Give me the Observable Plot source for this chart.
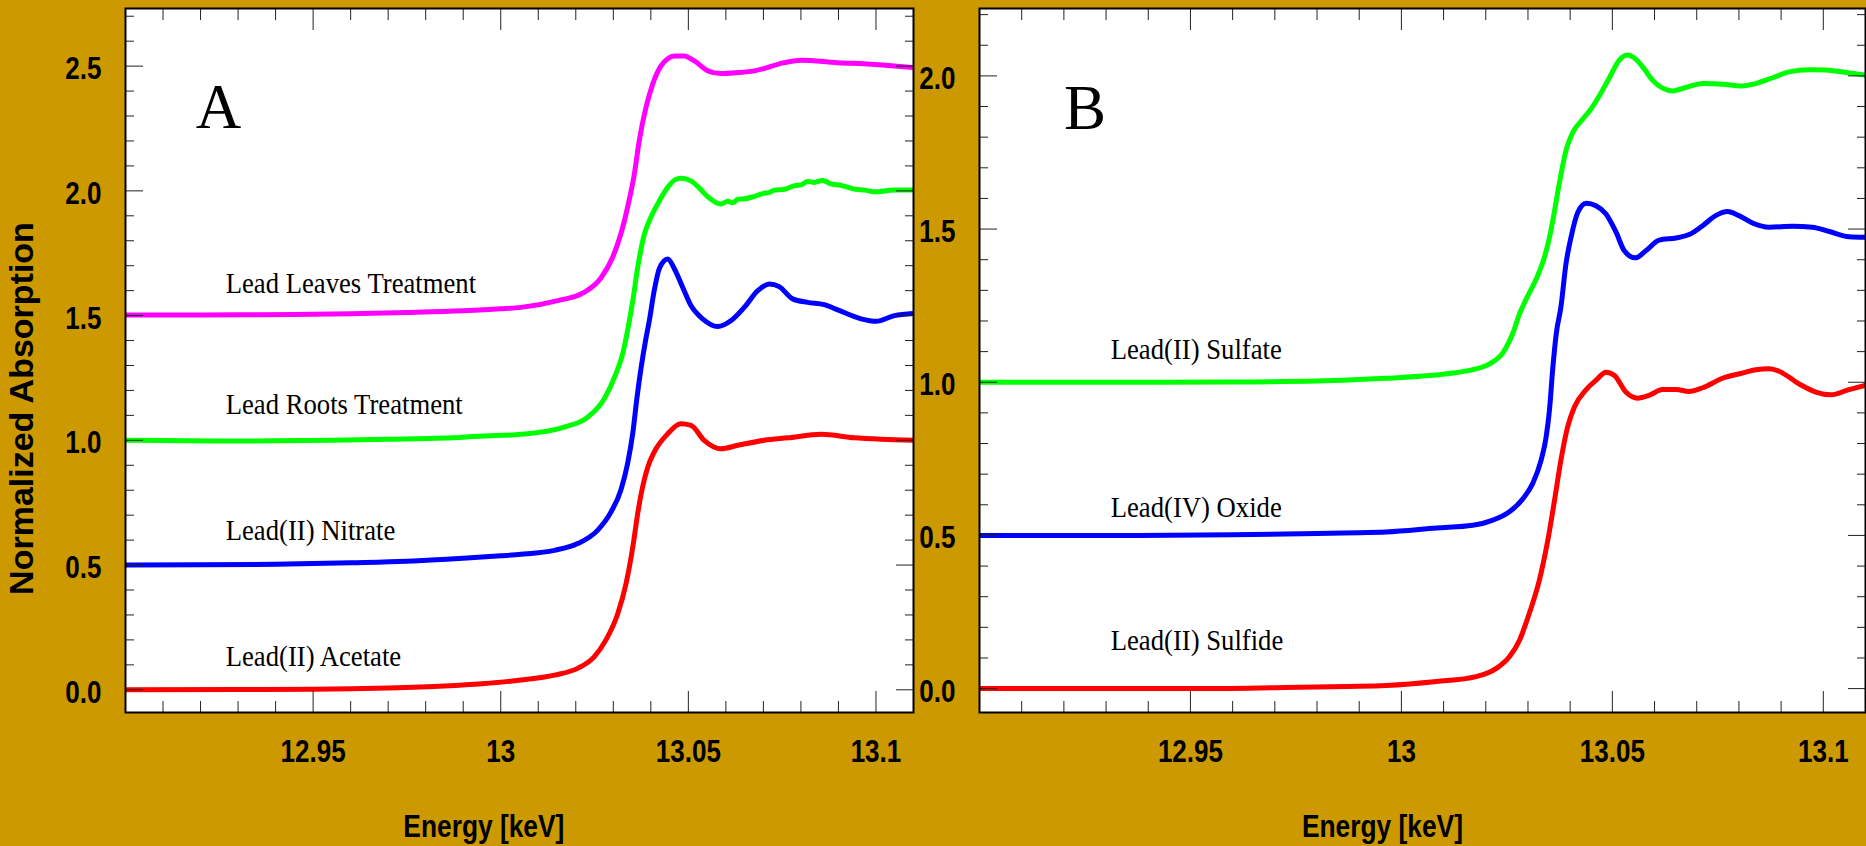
<!DOCTYPE html>
<html><head><meta charset="utf-8">
<script src="https://cdn.jsdelivr.net/npm/d3@7"></script>
<script src="https://cdn.jsdelivr.net/npm/@observablehq/plot@0.6"></script>
<style>
html,body{margin:0;padding:0;background:#CC9900;width:1866px;height:846px;overflow:hidden}
#wrap{display:flex;flex-direction:row;align-items:flex-start}
svg{display:block;overflow:visible}
</style></head><body><div id="wrap"></div>
<script>
// ---------- axis ticks & labels ----------
const energyTicks = [12.95, 13, 13.05, 13.1];
const energyTickLabels = ["12.95", "13", "13.05", "13.1"];
const yTicksA = [0, 0.5, 1, 1.5, 2, 2.5];
const yTicksB = [0, 0.5, 1, 1.5, 2];
const xTitle = "Energy [keV]";
const yTitle = "Normalized Absorption";
const xTitleEnergy = 12.9955;

// ---------- Panel A series: [energy keV, normalized absorption] ----------
const leavesTreatment = [[12.9,1.502],[12.915,1.502],[12.93,1.503],[12.945,1.504],[12.96,1.507],[12.975,1.512],[12.99,1.519],[13.0,1.527],[13.0054,1.533],[13.0152,1.56],[13.0222,1.593],[13.0267,1.651],[13.0298,1.733],[13.032,1.827],[13.0338,1.934],[13.0356,2.067],[13.0369,2.2],[13.0387,2.334],[13.0405,2.428],[13.0427,2.501],[13.0445,2.53],[13.0463,2.541],[13.0489,2.541],[13.0516,2.521],[13.0552,2.481],[13.0587,2.47],[13.0632,2.474],[13.0676,2.481],[13.0756,2.514],[13.08,2.524],[13.0898,2.514],[13.0987,2.508],[13.1101,2.494]];
const rootsTreatment = [[12.9,1.0],[12.91,0.999],[12.925,0.997],[12.94,0.998],[12.955,1.0],[12.97,1.004],[12.985,1.009],[12.995,1.017],[13.0054,1.024],[13.0169,1.053],[13.0232,1.093],[13.0276,1.167],[13.0307,1.267],[13.0325,1.347],[13.0338,1.44],[13.0352,1.56],[13.0365,1.693],[13.0383,1.827],[13.0396,1.88],[13.0418,1.947],[13.0445,2.014],[13.0465,2.045],[13.048,2.051],[13.0507,2.04],[13.053,2.01],[13.0552,1.976],[13.0587,1.947],[13.0605,1.958],[13.0618,1.952],[13.0632,1.966],[13.065,1.968],[13.0676,1.978],[13.07,1.99],[13.0715,1.993],[13.0729,2.003],[13.0755,2.006],[13.0783,2.021],[13.08,2.024],[13.0818,2.038],[13.0835,2.034],[13.0858,2.042],[13.088,2.028],[13.0907,2.022],[13.0942,2.007],[13.097,2.003],[13.0996,1.996],[13.105,2.003],[13.1101,2.003]];
const leadNitrate = [[12.9,0.5],[12.92,0.501],[12.94,0.503],[12.96,0.509],[12.975,0.515],[12.99,0.527],[13.0,0.537],[13.0054,0.543],[13.0143,0.559],[13.0205,0.586],[13.0258,0.639],[13.0294,0.713],[13.032,0.8],[13.0338,0.906],[13.0352,1.03],[13.0363,1.17],[13.0374,1.29],[13.0386,1.4],[13.0396,1.48],[13.0409,1.6],[13.0423,1.69],[13.0445,1.727],[13.0463,1.687],[13.0485,1.613],[13.0507,1.54],[13.0538,1.487],[13.0578,1.456],[13.0614,1.48],[13.0649,1.533],[13.0685,1.6],[13.0716,1.627],[13.0742,1.616],[13.0778,1.567],[13.0818,1.553],[13.0862,1.544],[13.0898,1.523],[13.096,1.487],[13.1,1.477],[13.1049,1.5],[13.1101,1.509]];
const leadAcetate = [[12.9,0.0],[12.93,0.001],[12.95,0.002],[12.97,0.007],[12.985,0.015],[12.995,0.024],[13.0054,0.039],[13.0143,0.059],[13.0205,0.086],[13.0249,0.132],[13.028,0.199],[13.0312,0.306],[13.0334,0.426],[13.0352,0.573],[13.0365,0.706],[13.0378,0.813],[13.0392,0.893],[13.0409,0.953],[13.0445,1.026],[13.048,1.066],[13.0507,1.06],[13.0542,1.0],[13.0587,0.966],[13.0632,0.98],[13.0702,1.0],[13.0765,1.01],[13.0854,1.024],[13.0942,1.01],[13.1014,1.004],[13.1101,1.0]];

// ---------- Panel B series ----------
const leadSulfate = [[12.9,1.0],[12.93,1.0],[12.96,1.001],[12.98,1.004],[12.99,1.009],[12.9964,1.013],[13.0122,1.03],[13.0169,1.041],[13.0209,1.06],[13.024,1.095],[13.0264,1.16],[13.028,1.223],[13.0296,1.272],[13.0323,1.348],[13.0339,1.408],[13.0351,1.473],[13.0363,1.56],[13.0374,1.647],[13.039,1.756],[13.0406,1.815],[13.043,1.859],[13.0449,1.891],[13.0469,1.935],[13.0493,1.994],[13.0516,2.051],[13.0536,2.068],[13.0556,2.054],[13.0576,2.022],[13.0595,1.986],[13.0619,1.96],[13.0643,1.951],[13.0674,1.962],[13.0714,1.975],[13.0761,1.973],[13.0808,1.967],[13.084,1.975],[13.088,1.994],[13.0919,2.013],[13.0966,2.02],[13.1006,2.019],[13.1053,2.011],[13.1099,2.003]];
const leadOxide = [[12.9,0.5],[12.93,0.5],[12.96,0.502],[12.98,0.506],[12.99,0.509],[12.9964,0.511],[13.0083,0.524],[13.0169,0.533],[13.0217,0.55],[13.0256,0.577],[13.0288,0.62],[13.0311,0.669],[13.0331,0.745],[13.0343,0.821],[13.0351,0.91],[13.0359,1.049],[13.0367,1.158],[13.0378,1.245],[13.039,1.386],[13.0402,1.473],[13.0418,1.554],[13.0438,1.584],[13.0461,1.576],[13.0485,1.549],[13.0509,1.489],[13.0528,1.43],[13.0554,1.406],[13.058,1.43],[13.0611,1.464],[13.0651,1.471],[13.0682,1.482],[13.0714,1.511],[13.0745,1.544],[13.0773,1.557],[13.08,1.544],[13.0832,1.52],[13.0872,1.506],[13.0927,1.509],[13.0974,1.506],[13.1014,1.492],[13.1061,1.475],[13.1099,1.473]];
const leadSulfide = [[12.9,0.0],[12.95,0.0],[12.97,0.003],[12.9869,0.007],[12.9964,0.01],[13.0083,0.023],[13.0177,0.039],[13.0225,0.066],[13.0256,0.104],[13.028,0.158],[13.0303,0.245],[13.0327,0.354],[13.0347,0.484],[13.0363,0.615],[13.0378,0.745],[13.0394,0.854],[13.041,0.919],[13.0438,0.976],[13.0461,1.006],[13.0485,1.033],[13.0505,1.022],[13.0532,0.968],[13.056,0.948],[13.0587,0.957],[13.0619,0.976],[13.0651,0.976],[13.0682,0.97],[13.0714,0.982],[13.0761,1.013],[13.0808,1.03],[13.084,1.041],[13.0872,1.044],[13.0895,1.036],[13.0942,0.995],[13.0982,0.968],[13.1018,0.959],[13.1061,0.976],[13.1099,0.99]];

// ---------- series names, colours, label anchors ----------
const namesA = ["Lead Leaves Treatment", "Lead Roots Treatment", "Lead(II) Nitrate", "Lead(II) Acetate"];
const colorsA = ["#FF00FF", "#00FF00", "#0000FF", "#FF0000"];
const labelEnergyA = [12.9267, 12.9267, 12.9267, 12.9267];
const labelValueA = [1.589, 1.106, 0.599, 0.097];
const namesB = ["Lead(II) Sulfate", "Lead(IV) Oxide", "Lead(II) Sulfide"];
const colorsB = ["#00FF00", "#0000FF", "#FF0000"];
const labelEnergyB = [12.9311, 12.9311, 12.9311];
const labelValueB = [1.075, 0.559, 0.125];
const panelLetters = ["A", "B"];
const letterEnergy = [12.9187, 12.92];
const letterValue = [2.251, 1.827];

const xDomain = [12.9, 13.11];
const yDomainA = [-0.091, 2.731];
const yDomainB = [-0.078, 2.22];

function minorX() {
  return d3.range(1291, 1312).filter(i => i % 5 !== 0).map(i => i / 100);
}
function minorY(dom) {
  return d3.range(Math.ceil(dom[0] * 10), Math.floor(dom[1] * 10) + 1).filter(i => i % 5 !== 0).map(i => i / 10);
}

function panel({seriesList, names, colors, labelE, labelV, letter, letterE, letterV,
                width, marginLeft, yDomain, yTicks, showYTitle}) {
  const tickFmt = d => energyTickLabels[energyTicks.indexOf(d)];
  const marks = [
    Plot.frame({fill: "white"}),
    ...seriesList.map((s, i) => Plot.line(s, {x: d => d[0], y: d => d[1], stroke: colors[i], strokeWidth: 5, curve: "monotone-x", clip: true})),
    Plot.text(names, {x: (d, i) => labelE[i], y: (d, i) => labelV[i], text: d => d, textAnchor: "start", lineAnchor: "bottom",
      fontFamily: "Liberation Serif, 'Times New Roman', serif", fontSize: 29, fontWeight: "normal", fill: "black"}),
    Plot.text([letter], {x: letterE, y: letterV, text: d => d, textAnchor: "start", lineAnchor: "bottom",
      fontFamily: "Liberation Serif, 'Times New Roman', serif", fontSize: 63, fontWeight: "normal", fill: "black"}),
    // inner ticks: left / right
    Plot.axisY(yTicks, {anchor: "left", tickSize: -18, tickFormat: () => "", label: null, stroke: "#222"}),
    Plot.axisY(minorY(yDomain), {anchor: "left", tickSize: -9, tickFormat: () => "", label: null, stroke: "#222"}),
    Plot.axisY(yTicks, {anchor: "right", tickSize: -18, tickFormat: () => "", label: null, stroke: "#222"}),
    Plot.axisY(minorY(yDomain), {anchor: "right", tickSize: -9, tickFormat: () => "", label: null, stroke: "#222"}),
    // inner ticks: bottom / top
    Plot.axisX(energyTicks, {anchor: "bottom", tickSize: -21, tickFormat: () => "", label: null, stroke: "#222"}),
    Plot.axisX(minorX(), {anchor: "bottom", tickSize: -11, tickFormat: () => "", label: null, stroke: "#222"}),
    Plot.axisX(energyTicks, {anchor: "top", tickSize: -21, tickFormat: () => "", label: null, stroke: "#222"}),
    Plot.axisX(minorX(), {anchor: "top", tickSize: -11, tickFormat: () => "", label: null, stroke: "#222"}),
    // tick labels
    Plot.axisY(yTicks, {anchor: "left", tickSize: 0, tickPadding: 24, dy: 3, tickFormat: d => d.toFixed(1), label: null}),
    Plot.axisX(energyTicks, {anchor: "bottom", tickSize: 0, tickPadding: 27, tickFormat: tickFmt, label: null}),
    // x title
    Plot.text([xTitle], {x: xTitleEnergy, frameAnchor: "bottom", dy: 124.7, lineAnchor: "bottom", textAnchor: "middle", text: d => d}),
    Plot.frame({stroke: "black", strokeWidth: 2})
  ];
  if (showYTitle) {
    marks.push(Plot.text([yTitle], {frameAnchor: "left", dx: -103, dy: 48, rotate: -90, textAnchor: "middle", lineAnchor: "middle", fontSize: 34, text: d => d}));
  }
  const svg = Plot.plot({
    width, height: 846,
    marginLeft, marginRight: 1, marginTop: 8, marginBottom: 134,
    x: {domain: xDomain},
    y: {domain: yDomain},
    style: {background: "transparent", color: "black", fontFamily: "'Liberation Sans', Arial, sans-serif", fontSize: "31px", fontWeight: "bold", overflow: "visible"},
    marks
  });
  const squeezeEl = (t, k) => t.setAttribute("transform", (t.getAttribute("transform") || "") + ` scale(${k},1)`);
  svg.querySelectorAll('g[aria-label="y-axis tick label"] text, g[aria-label="x-axis tick label"] text').forEach(t => squeezeEl(t, 0.84));
  svg.querySelectorAll("text").forEach(t => {
    const s = t.textContent;
    if (names.includes(s)) squeezeEl(t, 0.92);
    else if (s === xTitle) squeezeEl(t, 0.85);
  });
  return svg;
}

const wrap = document.getElementById("wrap");
wrap.appendChild(panel({
  seriesList: [leavesTreatment, rootsTreatment, leadNitrate, leadAcetate],
  names: namesA, colors: colorsA, labelE: labelEnergyA, labelV: labelValueA,
  letter: panelLetters[0], letterE: letterEnergy[0], letterV: letterValue[0],
  width: 914, marginLeft: 125, yDomain: yDomainA, yTicks: yTicksA, showYTitle: true
}));
wrap.appendChild(panel({
  seriesList: [leadSulfate, leadOxide, leadSulfide],
  names: namesB, colors: colorsB, labelE: labelEnergyB, labelV: labelValueB,
  letter: panelLetters[1], letterE: letterEnergy[1], letterV: letterValue[1],
  width: 952, marginLeft: 65, yDomain: yDomainB, yTicks: yTicksB, showYTitle: false
}));
</script></body></html>
